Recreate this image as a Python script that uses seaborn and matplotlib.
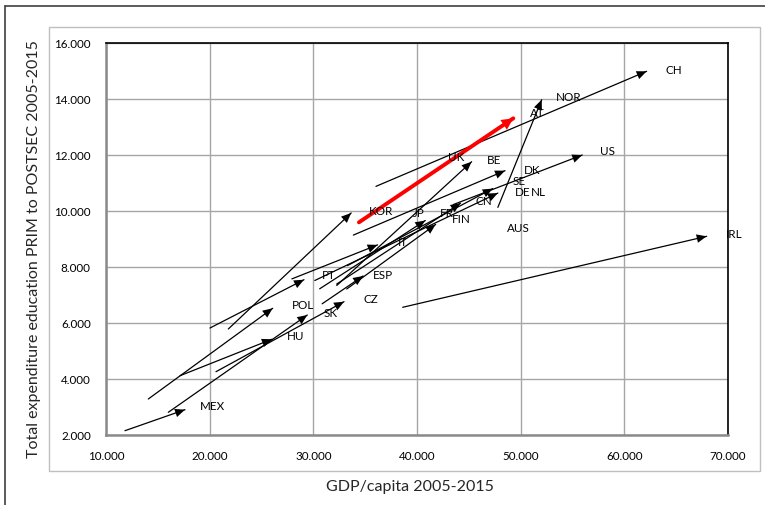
import matplotlib
matplotlib.use("Agg")
import matplotlib.pyplot as plt
import seaborn as sns
import pandas as pd
from matplotlib.ticker import FuncFormatter
from matplotlib.lines import Line2D
from matplotlib.patches import Rectangle

# ---- data ----
arrow_country = ["MEX", "POL", "SK", "HU", "CZ", "PT", "KOR", "IT", "ESP", "JP",
                 "FIN", "CN", "SE", "DE", "BE", "DK", "US", "CH", "NOR", "IRL", "AT"]
gdp_2005 = [11830, 14080, 16010, 17140, 20610, 20030, 21800, 27930, 30850, 30610,
            33220, 32250, 33290, 30140, 32260, 33860, 43500, 36040, 47800, 38620, 34400]
exp_2005 = [2154, 3286, 2811, 4118, 4261, 5821, 5786, 7575, 6686, 7221,
            7214, 7390, 8050, 7518, 7340, 9140, 10230, 10880, 10130, 6561, 9595]
gdp_2015 = [17620, 26080, 29420, 26000, 32960, 29100, 33650, 36200, 34800, 40800,
            41800, 44200, 47300, 47800, 45270, 48490, 55940, 62150, 52030, 67940, 49290]
exp_2015 = [2904, 6525, 6286, 5420, 6761, 7546, 9930, 8790, 7680, 9660,
            9520, 10280, 10800, 10640, 11760, 11440, 12000, 14990, 13975, 9096, 13310]
highlight = "AT"

label_text = ["CH", "NOR", "AT", "US", "UK", "BE", "DK", "SE", "DE", "NL", "CN", "JP", "FR",
              "FIN", "KOR", "AUS", "IRL", "IT", "PT", "ESP", "CZ", "POL", "SK", "HU", "MEX"]
label_gdp = [64730, 54610, 51560, 58370, 43790, 47460, 51080, 49810, 50150, 51700, 46470, 40160,
             42850, 44270, 36500, 49760, 70620, 38610, 31460, 36730, 35550, 28960, 31690, 28260, 20260]
label_exp = [15050, 14104, 13507, 12143, 11943, 11846, 11493, 11090, 10700, 10700, 10389, 9950,
             9950, 9746, 10007, 9393, 9179, 8918, 7718, 7718, 6864, 6650, 6389, 5561, 3046]

x_ticks = [10000, 20000, 30000, 40000, 50000, 60000, 70000]
y_ticks = [2000, 4000, 6000, 8000, 10000, 12000, 14000, 16000]

# ---- build long table ----
rows = []
for c, x0, y0, x1, y1 in zip(arrow_country, gdp_2005, exp_2005, gdp_2015, exp_2015):
    rows.append(dict(country=c, year=2005, gdp=x0, exp=y0))
    rows.append(dict(country=c, year=2015, gdp=x1, exp=y1))
df = pd.DataFrame(rows)

sns.set_style("white")
FONT = ["Lato", "DejaVu Sans"]
plt.rcParams["font.family"] = FONT

W, H = 765, 506
fig = plt.figure(figsize=(W / 100, H / 100), dpi=100)
ax = fig.add_axes([106 / W, 1 - 436 / H, (728 - 106) / W, (436 - 44) / H])

black = df[df.country != highlight]
red = df[df.country == highlight]
sns.lineplot(data=black, x="gdp", y="exp", units="country", estimator=None, sort=False,
             color="black", lw=0.9, ax=ax, legend=False, zorder=3)
sns.lineplot(data=red, x="gdp", y="exp", units="country", estimator=None, sort=False,
             color="#ff0000", lw=2.8, ax=ax, legend=False, zorder=4)

for c, x0, y0, x1, y1 in zip(arrow_country, gdp_2005, exp_2005, gdp_2015, exp_2015):
    if c == highlight:
        props = dict(arrowstyle="-|>,head_length=0.7,head_width=0.35", lw=0, fc="#ff0000",
                     ec="#ff0000", shrinkA=0, shrinkB=0, mutation_scale=12)
        z = 5
    else:
        props = dict(arrowstyle="-|>,head_length=0.65,head_width=0.28", lw=0, fc="black",
                     ec="black", shrinkA=0, shrinkB=0, mutation_scale=11)
        z = 4
    ax.annotate("", xy=(x1, y1), xytext=(x0, y0), arrowprops=props, zorder=z)

for t, x, y in zip(label_text, label_gdp, label_exp):
    ax.text(x, y, t, ha="center", va="center", fontsize=8.4, color="black",
            family=FONT, zorder=6, clip_on=False)

ax.set_xlim(10000, 70000)
ax.set_ylim(2000, 16000)
ax.set_xticks(x_ticks)
ax.set_yticks(y_ticks)
fmt = FuncFormatter(lambda v, p: f"{v:,.0f}".replace(",", "."))
ax.xaxis.set_major_formatter(fmt)
ax.yaxis.set_major_formatter(fmt)
ax.grid(True, color="#a6a6a6", lw=1)
ax.set_axisbelow(True)
for s in ["top", "right"]:
    ax.spines[s].set_color("black")
    ax.spines[s].set_linewidth(1.2)
for s in ["left", "bottom"]:
    ax.spines[s].set_color("#8a8a8a")
    ax.spines[s].set_linewidth(1.8)
ax.tick_params(axis="both", direction="out", length=4, width=1, color="#8a8a8a",
               labelsize=8.4, labelcolor="black", pad=7)
ax.set_xlabel("")
ax.set_ylabel("")

fig.text(410 / W, 1 - 487 / H, "GDP/capita 2005-2015", ha="center", va="center",
         fontsize=11.5, family=FONT)
fig.text(34 / W, 1 - 249 / H, "Total expenditure education PRIM to POSTSEC 2005-2015",
         ha="center", va="center", rotation=90, fontsize=11.5, family=FONT)

# outer frame lines and chart-area border
fig.add_artist(Line2D([5 / W, 1], [1 - 7 / H, 1 - 7 / H], color="#404040", lw=1.2,
                      transform=fig.transFigure))
fig.add_artist(Line2D([5 / W, 5 / W], [0, 1 - 7 / H], color="#404040", lw=1.2,
                      transform=fig.transFigure))
fig.add_artist(Rectangle((49 / W, 1 - 472 / H), (760 - 49) / W, (472 - 28) / H,
                         fill=False, ec="#bfbfbf", lw=1, transform=fig.transFigure))

fig.savefig("out.png", dpi=100)
